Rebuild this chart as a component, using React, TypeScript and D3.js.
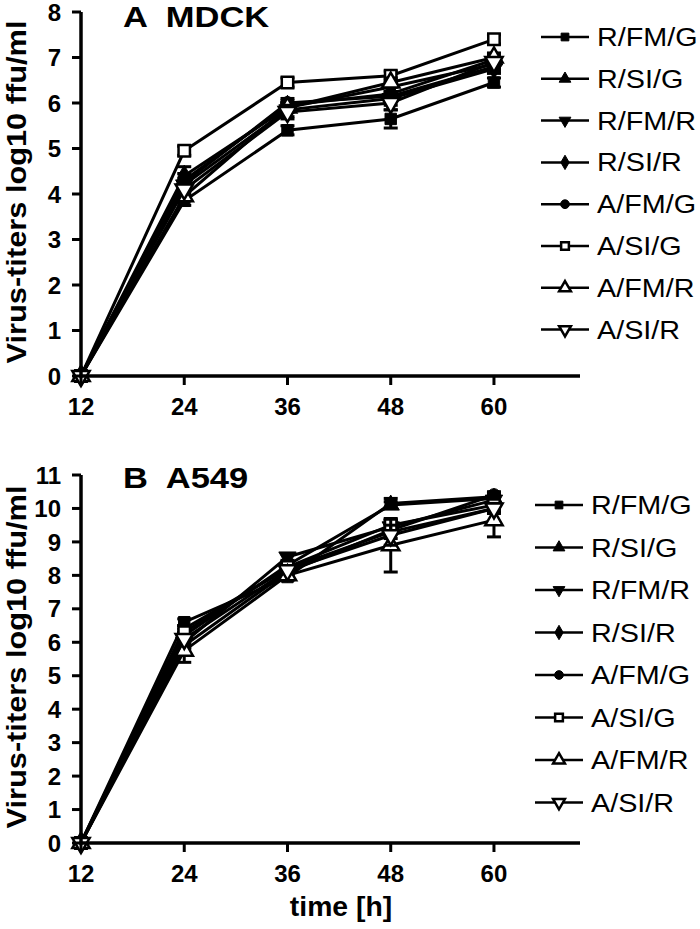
import * as d3 from "d3";

const hours = [12, 24, 36, 48, 60];
const seriesNames = ["R/FM/G", "R/SI/G", "R/FM/R", "R/SI/R", "A/FM/G", "A/SI/G", "A/FM/R", "A/SI/R"];

// MDCK titers (log10 ffu/ml), one row per series
const mdckValues = [
  [0, 3.85, 5.4, 5.65, 6.45],
  [0, 4.3, 5.95, 6.2, 6.95],
  [0, 4.2, 5.85, 6.1, 6.75],
  [0, 4.4, 5.9, 6.35, 6.85],
  [0, 4.25, 6.0, 6.15, 6.8],
  [0, 4.95, 6.45, 6.6, 7.4],
  [0, 3.95, 5.9, 6.45, 7.0],
  [0, 4.1, 5.8, 6.0, 6.9],
];
const mdckErrors = [
  [0, 0.1, 0.1, 0.2, 0.1],
  [0, 0.15, 0.1, 0.15, 0.1],
  [0, 0.1, 0.15, 0.15, 0.1],
  [0, 0.2, 0.1, 0.1, 0.1],
  [0, 0.1, 0.1, 0.1, 0.1],
  [0, 0.1, 0.1, 0.1, 0.1],
  [0, 0.1, 0.1, 0.1, 0.1],
  [0, 0.1, 0.15, 0.15, 0.1],
];

// A549 titers (log10 ffu/ml)
const a549Values = [
  [0, 6.6, 7.95, 10.15, 10.35],
  [0, 6.2, 8.3, 10.1, 10.3],
  [0, 6.0, 8.55, 9.45, 10.25],
  [0, 6.4, 8.2, 9.3, 10.0],
  [0, 5.9, 8.1, 9.35, 10.4],
  [0, 6.3, 8.25, 9.5, 10.1],
  [0, 5.75, 8.0, 8.9, 9.65],
  [0, 6.1, 8.15, 9.2, 10.0],
];
const a549Errors = [
  [0, 0.1, 0.1, 0.15, 0.1],
  [0, 0.1, 0.1, 0.1, 0.1],
  [0, 0.15, 0.1, 0.2, 0.1],
  [0, 0.1, 0.1, 0.2, 0.1],
  [0, 0.1, 0.1, 0.1, 0.1],
  [0, 0.1, 0.1, 0.15, 0.1],
  [0, 0.35, 0.1, 0.8, 0.5],
  [0, 0.1, 0.1, 0.3, 0.15],
];

const xTicks = [12, 24, 36, 48, 60];

const markers = [
  { type: d3.symbolSquare, filled: true, rot: 0 },
  { type: d3.symbolTriangle, filled: true, rot: 0 },
  { type: d3.symbolTriangle, filled: true, rot: 180 },
  { type: d3.symbolDiamond, filled: true, rot: 0 },
  { type: d3.symbolCircle, filled: true, rot: 0 },
  { type: d3.symbolSquare, filled: false, rot: 0 },
  { type: d3.symbolTriangle, filled: false, rot: 0 },
  { type: d3.symbolTriangle, filled: false, rot: 180 },
];

const FONT = "'Liberation Sans', Arial, sans-serif";
const STRETCH = 1.15; // the original lettering is a bit wide

function Marker({ i, x, y, size }: { i: number; x: number; y: number; size: number }) {
  const m = markers[i];
  const path = d3.symbol().type(m.type).size(size)()!;
  return (
    <path
      d={path}
      transform={`translate(${x},${y}) rotate(${m.rot})`}
      fill={m.filled ? "#000" : "#fff"}
      stroke="#000"
      strokeWidth={m.filled ? 1 : 2.5}
    />
  );
}

function Panel({
  top, bottom, yMax, values, errors, title, titleY, legendX, legendTop, legendStep, showXTitle,
}: {
  top: number; bottom: number; yMax: number; values: number[][]; errors: number[][];
  title: string; titleY: number; legendX: number; legendTop: number; legendStep: number; showXTitle: boolean;
}) {
  const x = d3.scaleLinear().domain([12, 70]).range([81, 580]);
  const y = d3.scaleLinear().domain([0, yMax]).range([bottom, top]);
  const line = d3.line<number>().x((_, j) => x(hours[j])).y((v) => y(v));
  const yTicks = d3.range(0, yMax + 1);

  return (
    <g>
      {/* series */}
      {values.map((vals, i) => (
        <g key={i}>
          <path d={line(vals)!} fill="none" stroke="#000" strokeWidth={3} />
          {vals.map((v, j) => {
            const e = errors[i][j];
            if (!e) return null;
            return (
              <g key={j} stroke="#000" strokeWidth={3}>
                <line x1={x(hours[j])} x2={x(hours[j])} y1={y(v - e)} y2={y(v + e)} />
                <line x1={x(hours[j]) - 7} x2={x(hours[j]) + 7} y1={y(v - e)} y2={y(v - e)} />
                <line x1={x(hours[j]) - 7} x2={x(hours[j]) + 7} y1={y(v + e)} y2={y(v + e)} />
              </g>
            );
          })}
          {vals.map((v, j) => (
            <Marker key={j} i={i} x={x(hours[j])} y={y(v)} size={130} />
          ))}
        </g>
      ))}

      {/* axes */}
      <line x1={x(12)} x2={x(12)} y1={y(0) + 1.5} y2={y(yMax)} stroke="#000" strokeWidth={3.5} />
      <line x1={x(12) - 1.5} x2={x(70)} y1={y(0)} y2={y(0)} stroke="#000" strokeWidth={3.5} />
      {yTicks.map((t) => (
        <g key={t}>
          <line x1={x(12) - 9} x2={x(12)} y1={y(t)} y2={y(t)} stroke="#000" strokeWidth={3} />
          <text x={x(12) - 20} y={y(t)} dy="0.36em" textAnchor="end" fontFamily={FONT} fontWeight="bold" fontSize={24}>
            {t}
          </text>
        </g>
      ))}
      {xTicks.map((t) => (
        <g key={t}>
          <line x1={x(t)} x2={x(t)} y1={y(0)} y2={y(0) + 9} stroke="#000" strokeWidth={3} />
          <text x={x(t)} y={y(0) + 39} textAnchor="middle" fontFamily={FONT} fontWeight="bold" fontSize={24}>
            {t}
          </text>
        </g>
      ))}
      <text
        transform={`translate(26,${(top + bottom) / 2 - 2}) rotate(-90)`}
        textAnchor="middle"
        fontFamily={FONT}
        fontWeight="bold"
        fontSize={28}
        textLength={343}
        lengthAdjust="spacingAndGlyphs"
      >
        Virus-titers log10 ffu/ml
      </text>
      <text
        transform={`translate(123,${titleY}) scale(${STRETCH},1)`}
        fontFamily={FONT}
        fontWeight="bold"
        fontSize={30}
        style={{ whiteSpace: "pre" }}
      >
        {title}
      </text>
      {showXTitle && (
        <text
          transform={`translate(341,${bottom + 73}) scale(1.05,1)`}
          textAnchor="middle"
          fontFamily={FONT}
          fontWeight="bold"
          fontSize={27}
        >
          time [h]
        </text>
      )}

      {/* legend */}
      {seriesNames.map((name, i) => {
        const ly = legendTop + i * legendStep;
        return (
          <g key={name}>
            <line x1={legendX} x2={legendX + 48} y1={ly} y2={ly} stroke="#000" strokeWidth={2.5} />
            <Marker i={i} x={legendX + 24} y={ly} size={60} />
            <text
              transform={`translate(${legendX + 56},${ly + 9}) scale(${STRETCH},1)`}
              fontFamily={FONT}
              fontSize={25}
            >
              {name}
            </text>
          </g>
        );
      })}
    </g>
  );
}

export default function App() {
  return (
    <svg width={700} height={929} style={{ display: "block", position: "absolute", left: 0, top: 0, background: "#fff" }}>
      <Panel
        top={12}
        bottom={376}
        yMax={8}
        values={mdckValues}
        errors={mdckErrors}
        title="A  MDCK"
        titleY={27}
        legendX={541}
        legendTop={37}
        legendStep={41.8}
        showXTitle={false}
      />
      <Panel
        top={475}
        bottom={843}
        yMax={11}
        values={a549Values}
        errors={a549Errors}
        title="B  A549"
        titleY={488}
        legendX={535}
        legendTop={505}
        legendStep={42.5}
        showXTitle={true}
      />
    </svg>
  );
}
